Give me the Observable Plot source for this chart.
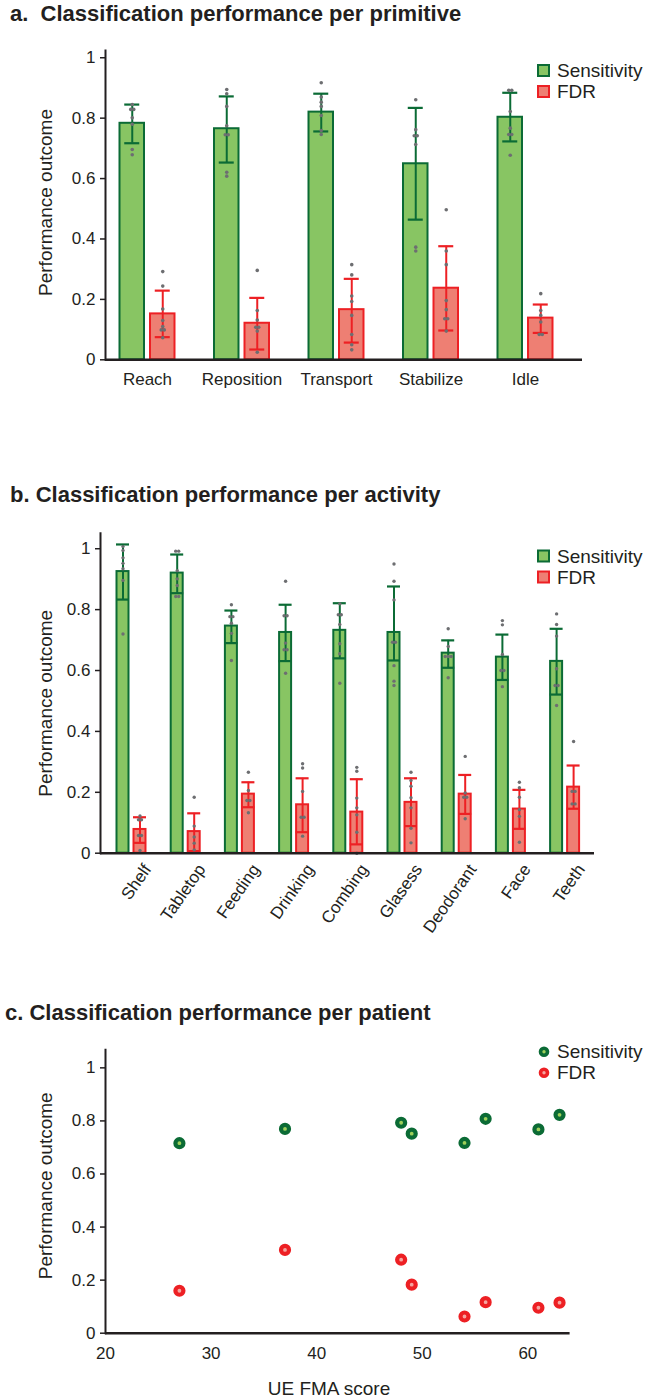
<!DOCTYPE html>
<html><head><meta charset="utf-8">
<script src="https://cdn.jsdelivr.net/npm/d3@7"></script>
<script src="https://cdn.jsdelivr.net/npm/@observablehq/plot@0.6"></script>
<style>
body{margin:0;background:#fff;width:646px;height:1398px;position:relative;overflow:hidden;font-family:"Liberation Sans",Arial,sans-serif}
.panel{position:absolute;left:0}
#overlay{position:absolute;left:0;top:0;pointer-events:none}
</style></head><body>
<div id="pa" class="panel" style="top:0px"></div>
<div id="pb" class="panel" style="top:460px"></div>
<div id="pc" class="panel" style="top:1030px"></div>
<svg id="overlay" width="646" height="1398"></svg>
<script>
// ---------- DATA ----------
const yTicks = [0, 0.2, 0.4, 0.6, 0.8, 1];
const seriesNames = ["Sensitivity", "FDR"];

// Panel a: per primitive
const primitives = ["Reach", "Reposition", "Transport", "Stabilize", "Idle"];
const primSensMean = [0.783, 0.765, 0.820, 0.649, 0.803];
const primSensLo   = [0.717, 0.653, 0.756, 0.464, 0.723];
const primSensHi   = [0.845, 0.872, 0.881, 0.834, 0.884];
const primFdrMean  = [0.152, 0.121, 0.166, 0.237, 0.138];
const primFdrLo    = [0.075, 0.034, 0.057, 0.097, 0.089];
const primFdrHi    = [0.229, 0.205, 0.268, 0.376, 0.183];
const primSensDots = [
  [0.845, 0.829, 0.829, 0.801, 0.780, 0.696, 0.679],
  [0.895, 0.881, 0.839, 0.775, 0.745, 0.745, 0.621, 0.608],
  [0.917, 0.870, 0.853, 0.839, 0.809, 0.759, 0.746],
  [0.861, 0.762, 0.742, 0.742, 0.713, 0.373, 0.360],
  [0.892, 0.892, 0.822, 0.767, 0.746, 0.746, 0.677]
];
const primFdrDots = [
  [0.292, 0.244, 0.168, 0.130, 0.110, 0.099, 0.099, 0.073],
  [0.296, 0.163, 0.132, 0.108, 0.108, 0.095, 0.025],
  [0.315, 0.281, 0.211, 0.193, 0.147, 0.084, 0.050, 0.033],
  [0.497, 0.360, 0.315, 0.196, 0.166, 0.136, 0.136, 0.095],
  [0.219, 0.163, 0.147, 0.125, 0.084, 0.084]
];

// Panel b: per activity
const activities = ["Shelf", "Tabletop", "Feeding", "Drinking", "Combing", "Glasess", "Deodorant", "Face", "Teeth"];
const actSensMean = [0.925, 0.920, 0.746, 0.725, 0.732, 0.725, 0.657, 0.644, 0.630];
const actSensLo   = [0.833, 0.854, 0.690, 0.631, 0.640, 0.633, 0.609, 0.569, 0.521];
const actSensHi   = [1.014, 0.981, 0.797, 0.816, 0.821, 0.876, 0.699, 0.718, 0.737];
const actFdrMean  = [0.078, 0.071, 0.194, 0.159, 0.135, 0.167, 0.194, 0.145, 0.217];
const actFdrLo    = [0.034, 0.007, 0.151, 0.069, 0.029, 0.089, 0.129, 0.080, 0.146];
const actFdrHi    = [0.118, 0.131, 0.233, 0.246, 0.243, 0.246, 0.257, 0.208, 0.288];
const actSensDots = [
  [1.007, 0.994, 0.970, 0.952, 0.934, 0.896, 0.720],
  [0.992, 0.992, 0.928, 0.901, 0.879, 0.843, 0.843],
  [0.816, 0.777, 0.777, 0.755, 0.722, 0.633],
  [0.893, 0.780, 0.780, 0.690, 0.668, 0.668, 0.591],
  [0.819, 0.783, 0.783, 0.751, 0.688, 0.655, 0.558],
  [0.950, 0.893, 0.832, 0.693, 0.693, 0.616, 0.565, 0.551],
  [0.737, 0.679, 0.646, 0.646, 0.646, 0.576],
  [0.764, 0.750, 0.653, 0.600, 0.600, 0.547],
  [0.786, 0.751, 0.713, 0.606, 0.551, 0.551, 0.485]
];
const actFdrDots = [
  [0.122, 0.110, 0.110, 0.058, 0.058, 0.009],
  [0.184, 0.089, 0.053, 0.033, 0.011],
  [0.266, 0.206, 0.173, 0.173, 0.133],
  [0.294, 0.280, 0.203, 0.118, 0.118, 0.056],
  [0.282, 0.269, 0.181, 0.149, 0.126, 0.069, 0.000],
  [0.266, 0.239, 0.220, 0.182, 0.149, 0.082, 0.034],
  [0.318, 0.198, 0.184, 0.184, 0.113],
  [0.233, 0.215, 0.184, 0.143, 0.121, 0.036],
  [0.367, 0.203, 0.203, 0.162, 0.162]
];

// Panel c: per patient
const fmaScores   = [27, 37, 48, 49, 54, 56, 61, 63];
const patientSens = [0.716, 0.770, 0.793, 0.752, 0.717, 0.808, 0.768, 0.823];
const patientFdr  = [0.160, 0.314, 0.277, 0.183, 0.063, 0.117, 0.096, 0.115];
const fmaTicks = [20, 30, 40, 50, 60];

// ---------- STYLE ----------
const FONT = '"Liberation Sans", Arial, Helvetica, sans-serif';
const INK = "#231f20";
const GREEN_FILL = "#88c563", GREEN = "#0b6b35";
const RED_FILL = "#ee7f73", RED = "#ed2024";
const DOT = "#6d6e71";
const SENS_IN = "#9fd05a", FDR_IN = "#f5a5a0";

function rowsOf(cats, mean, lo, hi) {
  return cats.map((c, i) => ({cat: c, mean: mean[i], lo: lo[i], hi: hi[i]}));
}
function dotRows(cats, lists) {
  const rows = [];
  cats.forEach((c, i) => {
    const groups = d3.group(lists[i], v => Math.round(v * 200));
    for (const g of groups.values()) g.forEach((v, m) => rows.push({cat: c, v, j: (m - (g.length - 1) / 2) * 3}));
  });
  return rows;
}

function barPanel(cfg) {
  const n = cfg.cats.length;
  const bw = (cfg.xRange[1] - cfg.xRange[0]) / n;
  const h = bw / 2, off = (cfg.outer + cfg.gap) / 2;
  const sens = rowsOf(cfg.cats, cfg.sMean, cfg.sLo, cfg.sHi);
  const fdr = rowsOf(cfg.cats, cfg.fMean, cfg.fLo, cfg.fHi);
  const marks = [];
  marks.push(Plot.barY(sens, {x: "cat", y: "mean", fill: GREEN_FILL, stroke: GREEN, strokeWidth: 2,
    insetLeft: h - cfg.outer, insetRight: h + cfg.gap}));
  marks.push(Plot.barY(fdr, {x: "cat", y: "mean", fill: RED_FILL, stroke: RED, strokeWidth: 2,
    insetLeft: h + cfg.gap, insetRight: h - cfg.outer}));
  for (const [rows, col, sgn] of [[sens, GREEN, -1], [fdr, RED, 1]]) {
    marks.push(Plot.ruleX(rows, {x: "cat", y1: "lo", y2: "hi", dx: sgn * off, stroke: col, strokeWidth: 2}));
    const il = sgn < 0 ? h - off - cfg.capW : h + off - cfg.capW;
    const ir = sgn < 0 ? h + off - cfg.capW : h - off - cfg.capW;
    for (const k of ["lo", "hi"])
      marks.push(Plot.tickY(rows, {x: "cat", y: k, stroke: col, strokeWidth: 2.2, insetLeft: il, insetRight: ir}));
  }
  for (const [lists, sgn] of [[cfg.sDots, -1], [cfg.fDots, 1]]) {
    const rows = dotRows(cfg.cats, lists);
    for (const j of new Set(rows.map(r => r.j)))
      marks.push(Plot.dot(rows.filter(r => r.j === j), {x: "cat", y: "v", dx: sgn * off + j, r: cfg.dotR, fill: DOT, stroke: "none"}));
  }
  marks.push(Plot.axisY({ticks: yTicks, tickSize: 5, tickPadding: 5, tickFormat: d => String(d), label: null, strokeWidth: 1.5}));
  marks.push(Plot.frame({anchor: "left", stroke: INK, strokeWidth: 2}));
  marks.push(Plot.ruleY([0], {stroke: INK, strokeWidth: 2.5}));
  if (cfg.rotate) {
    marks.push(Plot.text(cfg.cats, {x: d => d, text: d => d, frameAnchor: "bottom", rotate: cfg.rotate,
      textAnchor: "end", lineAnchor: "middle", dx: cfg.labelDx, dy: cfg.labelDy, fill: INK}));
  } else {
    marks.push(Plot.axisX({tickSize: 0, tickPadding: cfg.tickPad, label: null}));
  }
  return Plot.plot({
    width: 646, height: cfg.height,
    marginTop: cfg.marginTop, marginBottom: cfg.marginBottom,
    marginLeft: cfg.marginLeft, marginRight: cfg.marginRight,
    x: {type: "band", domain: cfg.cats, range: cfg.xRange, padding: 0, round: false, axis: null},
    y: {domain: [0, cfg.yMax], axis: null},
    style: {fontSize: "17px", fontFamily: FONT, color: INK, background: "transparent", overflow: "visible"},
    marks
  });
}

const plotA = barPanel({
  cats: primitives, sMean: primSensMean, sLo: primSensLo, sHi: primSensHi,
  fMean: primFdrMean, fLo: primFdrLo, fHi: primFdrHi, sDots: primSensDots, fDots: primFdrDots,
  height: 410, marginTop: 50, marginBottom: 50.7, marginLeft: 105, marginRight: 64,
  xRange: [99.75, 572.25], yMax: 1.024, outer: 27.5, gap: 3, capW: 7.5, dotR: 1.8, tickPad: 13.4
});
document.getElementById("pa").appendChild(plotA);

const plotB = barPanel({
  cats: activities, sMean: actSensMean, sLo: actSensLo, sHi: actSensHi,
  fMean: actFdrMean, fLo: actFdrLo, fHi: actFdrHi, sDots: actSensDots, fDots: actFdrDots,
  height: 480, marginTop: 72.7, marginBottom: 87.3, marginLeft: 100, marginRight: 52,
  xRange: [103.9, 591.7], yMax: 1.051, outer: 14.5, gap: 2.5, capW: 6.5, dotR: 1.7,
  rotate: -55, labelDx: 16, labelDy: 13
});
document.getElementById("pb").appendChild(plotB);

const patients = fmaScores.map((x, i) => ({x, sens: patientSens[i], fdr: patientFdr[i]}));
const plotC = Plot.plot({
  width: 646, height: 368,
  marginTop: 19.3, marginBottom: 65.3, marginLeft: 105, marginRight: 76.4,
  x: {domain: [20, 64], axis: null},
  y: {domain: [0, 1.068], axis: null},
  style: {fontSize: "17px", fontFamily: FONT, color: INK, background: "transparent", overflow: "visible"},
  marks: [
    Plot.axisY({ticks: yTicks, tickSize: 5, tickPadding: 5, tickFormat: d => String(d), label: null, strokeWidth: 1.5}),
    Plot.axisX({ticks: fmaTicks, tickSize: 0, tickPadding: 14, label: null}),
    Plot.frame({anchor: "left", stroke: INK, strokeWidth: 2}),
    Plot.ruleY([0], {stroke: INK, strokeWidth: 2.5}),
    Plot.dot(patients, {x: "x", y: "sens", r: 4, fill: SENS_IN, stroke: GREEN, strokeWidth: 4.2}),
    Plot.dot(patients, {x: "x", y: "fdr", r: 4, fill: FDR_IN, stroke: RED, strokeWidth: 4.2})
  ]
});
document.getElementById("pc").appendChild(plotC);

// ---------- TITLES, AXIS TITLES, LEGENDS ----------
const ov = d3.select("#overlay").style("font-family", FONT);
function txt(x, y, s, o = {}) {
  const t = ov.append("text").attr("x", x).attr("y", y).text(s)
    .attr("fill", INK).attr("font-size", o.size || 19).style("white-space", "pre");
  if (o.bold) t.attr("font-weight", "bold");
  if (o.anchor) t.attr("text-anchor", o.anchor);
  if (o.dy) t.attr("dy", o.dy);
  if (o.rot) t.attr("transform", `rotate(${o.rot},${x},${y})`);
  return t;
}
txt(10, 20.7, "a.  Classification performance per primitive", {size: 22, bold: true});
txt(10, 501.7, "b. Classification performance per activity", {size: 22, bold: true});
txt(5, 1020, "c. Classification performance per patient", {size: 22, bold: true});

for (const cy of [202.5, 703.3, 1185.8])
  txt(45.5, cy, "Performance outcome", {anchor: "middle", dy: "0.35em", rot: -90});
txt(329, 1388, "UE FMA score", {anchor: "middle", dy: "0.35em"});

function squareLegend(y0) {
  [[GREEN_FILL, GREEN], [RED_FILL, RED]].forEach(([f, s], i) => {
    const cy = y0 + i * 21;
    ov.append("rect").attr("x", 538).attr("y", cy - 5.5).attr("width", 11).attr("height", 11)
      .attr("fill", f).attr("stroke", s).attr("stroke-width", 2);
    txt(557, cy, seriesNames[i], {dy: "0.35em"});
  });
}
squareLegend(70.5);
squareLegend(556);
[[SENS_IN, GREEN], [FDR_IN, RED]].forEach(([f, s], i) => {
  const cy = 1051.7 + i * 21;
  ov.append("circle").attr("cx", 544).attr("cy", cy).attr("r", 3.5)
    .attr("fill", f).attr("stroke", s).attr("stroke-width", 3.6);
  txt(557, cy, seriesNames[i], {dy: "0.35em"});
});
</script>
</body></html>
